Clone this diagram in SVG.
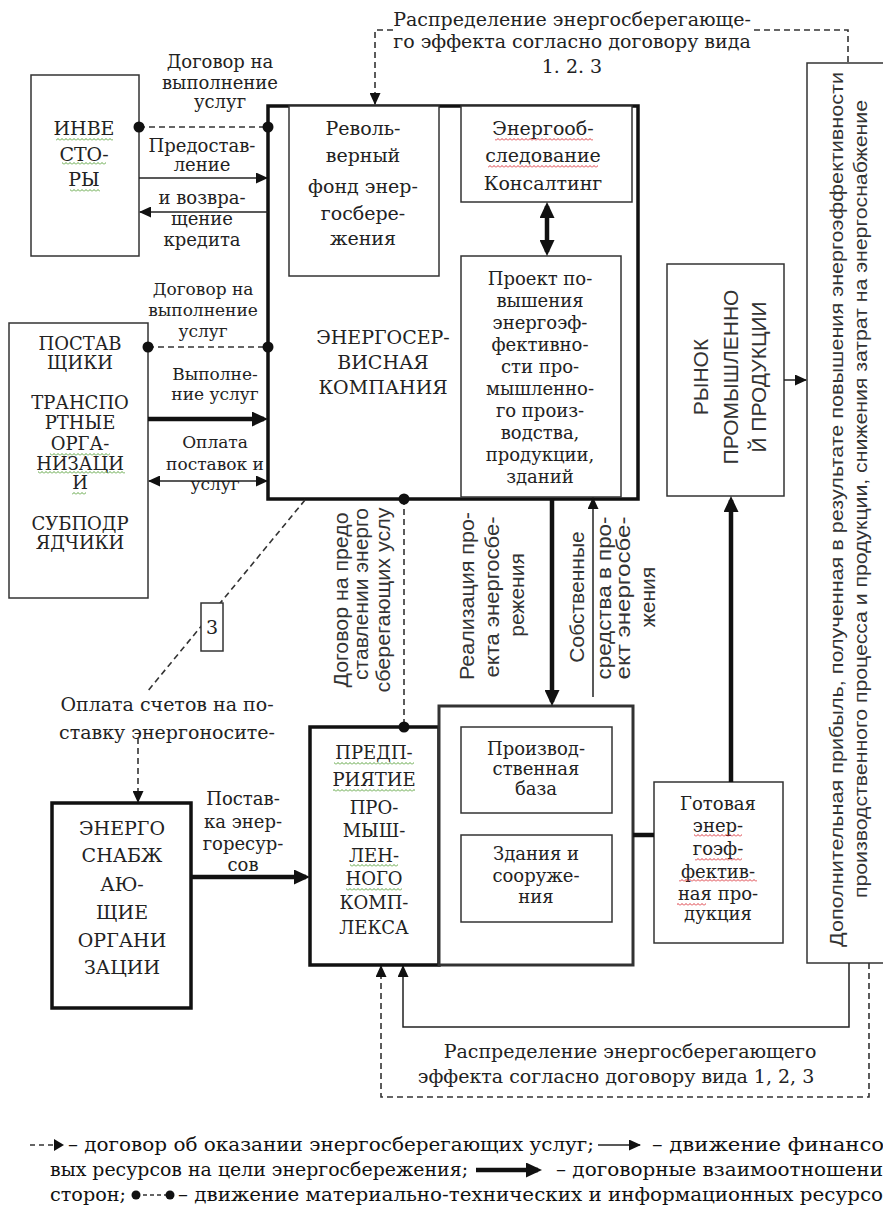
<svg xmlns="http://www.w3.org/2000/svg" width="883" height="1218" viewBox="0 0 883 1218">
<defs>
<style>
.t{font-family:"DejaVu Serif","Liberation Serif",serif;font-size:19px;fill:#222;text-anchor:middle}
.c{font-size:18px}
.n{font-size:17px}
.s{font-family:"Liberation Sans",Arial,sans-serif;fill:#333}
.sm{font-size:21px;text-anchor:middle}
.lg{font-family:"DejaVu Serif","Liberation Serif",serif;font-size:19px;fill:#111}
.box{fill:#fff;stroke:#333;stroke-width:1.5}
.tk{fill:#fff;stroke:#111;stroke-width:3.5}
.ln{fill:none;stroke:#222;stroke-width:1.5}
.bd{fill:none;stroke:#111;stroke-width:4.5}
.ds{fill:none;stroke:#333;stroke-width:1.6;stroke-dasharray:6 4}
.dot{fill:#111}
.wg{fill:url(#wg)}
.wr{fill:url(#wr)}
</style>
<marker id="a" markerUnits="userSpaceOnUse" markerWidth="13" markerHeight="11" refX="11" refY="5.5" orient="auto-start-reverse"><path d="M0,0 L12,5.5 L0,11 z" fill="#111"/></marker>
<marker id="A" markerUnits="userSpaceOnUse" markerWidth="17" markerHeight="15" refX="12" refY="7.5" orient="auto-start-reverse"><path d="M0,0 L16,7.5 L0,15 z" fill="#111"/></marker>
<pattern id="wg" patternUnits="userSpaceOnUse" width="4" height="3"><path d="M0,2.5 L2,0.5 L4,2.5" stroke="#4c9a2a" fill="none" stroke-width="0.9"/></pattern>
<pattern id="wr" patternUnits="userSpaceOnUse" width="4" height="3"><path d="M0,2.5 L2,0.5 L4,2.5" stroke="#d8232a" fill="none" stroke-width="0.9"/></pattern>
</defs>
<rect width="883" height="1218" fill="#fff"/>

<!-- nodes -->
<g id="energoservis">
<rect class="tk" x="268" y="106" width="370" height="393"/>
<g class="t" transform="translate(383 0)">
<text y="344">ЭНЕРГОСЕР-</text><text y="369">ВИСНАЯ</text><text y="394">КОМПАНИЯ</text>
</g>
</g>
<g id="revolver-fund">
<rect class="box" x="289" y="106" width="150" height="170"/>
<g class="t" transform="translate(363 0)">
<text y="135">Револь-</text><text y="162">верный</text><text y="193">фонд энер-</text><text y="220">госбере-</text><text y="245">жения</text>
</g>
</g>
<g id="audit">
<rect class="box" x="461" y="106" width="171" height="96"/>
<g class="t" transform="translate(543 0)">
<text y="135">Энергооб-</text><text y="162">следование</text><text y="190">Консалтинг</text>
</g>
<rect class="wr" x="495" y="138" width="98" height="3"/>
<rect class="wr" x="488" y="165" width="110" height="3"/>
</g>
<g id="project">
<rect class="box" x="461" y="256" width="160" height="241"/>
<g class="t c" transform="translate(540 0)">
<text y="285">Проект по-</text><text y="307">вышения</text><text y="329">энергоэф-</text><text y="351">фективно-</text><text y="373">сти про-</text><text y="395">мышленно-</text><text y="417">го произ-</text><text y="439">водства,</text><text y="461">продукции,</text><text y="483">зданий</text>
</g>
</g>
<g id="investors">
<rect class="box" x="31" y="75" width="108" height="181"/>
<g class="t" transform="translate(84 0)">
<text y="135">ИНВЕ</text><text y="161">СТО-</text><text y="186">РЫ</text>
</g>
<rect class="wg" x="56" y="138" width="57" height="3"/>
<rect class="wg" x="62" y="162" width="44" height="3"/>
<rect class="wg" x="70" y="189" width="30" height="3"/>
</g>
<g id="suppliers">
<rect class="box" x="9" y="323" width="139" height="275"/>
<g class="t c" transform="translate(80 0)">
<text y="350">ПОСТАВ</text><text y="369">ЩИКИ</text><text y="409">ТРАНСПО</text><text y="429">РТНЫЕ</text><text y="450">ОРГА-</text><text y="470">НИЗАЦИ</text><text y="489">И</text><text y="530">СУБПОДР</text><text y="549">ЯДЧИКИ</text>
</g>
<rect class="wg" x="50" y="453" width="60" height="3"/>
<rect class="wg" x="38" y="471" width="87" height="3"/>
<rect class="wg" x="72" y="492" width="14" height="3"/>
</g>
<g id="energy-supply">
<rect class="tk" x="52" y="803" width="139" height="205"/>
<g class="t" transform="translate(122 0)">
<text y="835">ЭНЕРГО</text><text y="862">СНАБЖ</text><text y="891">АЮ-</text><text y="919">ЩИЕ</text><text y="947">ОРГАНИ</text><text y="974">ЗАЦИИ</text>
</g>
</g>
<g id="enterprise">
<rect class="tk" x="310" y="727" width="129" height="238"/>
<g class="t c" transform="translate(374 0)">
<text y="759">ПРЕДП-</text><text y="786">РИЯТИЕ</text><text y="814">ПРО-</text><text y="837">МЫШ-</text><text y="862">ЛЕН-</text><text y="885">НОГО</text><text y="909">КОМП-</text><text y="934">ЛЕКСА</text>
</g>
<rect class="wg" x="334" y="762" width="80" height="3"/>
<rect class="wg" x="333" y="789" width="82" height="3"/>
<rect class="wg" x="350" y="864" width="48" height="3"/>
<rect class="wg" x="346" y="888" width="56" height="3"/>
</g>
<g id="production">
<rect class="tk" x="439" y="706" width="194" height="259" style="stroke:#333;stroke-width:3"/>
<rect class="box" x="461" y="727" width="151" height="86"/>
<rect class="box" x="461" y="835" width="151" height="87"/>
<g class="t c" transform="translate(536 0)">
<text y="755">Производ-</text><text y="775">ственная</text><text y="795">база</text>
<text y="860">Здания и</text><text y="882">сооруже-</text><text y="903">ния</text>
</g>
</g>
<g id="ready-product">
<rect class="box" x="654" y="782" width="129" height="161"/>
<g class="t c" transform="translate(718 0)">
<text y="810">Готовая</text><text y="832">энер-</text><text y="855">гоэф-</text><text y="878">фектив-</text><text y="900">ная про-</text><text y="920">дукция</text>
</g>
<rect class="wr" x="694" y="834" width="48" height="3"/>
<rect class="wr" x="695" y="858" width="47" height="3"/>
<rect class="wr" x="679" y="879" width="78" height="3"/>
<rect class="wr" x="677" y="903" width="29" height="3"/>
</g>
<g id="market">
<rect class="box" x="667" y="264" width="117" height="232"/>
<g class="s sm">
<text transform="translate(708 377) rotate(-90)">РЫНОК</text>
<text transform="translate(738 377) rotate(-90)">ПРОМЫШЛЕННО</text>
<text transform="translate(766 377) rotate(-90)">Й ПРОДУКЦИИ</text>
</g>
</g>
<g id="profit">
<rect class="box" x="807" y="63" width="100" height="900"/>
<g class="s" font-size="18">
<text transform="translate(843 947) rotate(-90)" textLength="875" lengthAdjust="spacingAndGlyphs">Дополнительная прибыль, полученная в результате повышения энергоэффективности</text>
<text transform="translate(867 898) rotate(-90)" textLength="798" lengthAdjust="spacingAndGlyphs">производственного процесса и продукции, снижения затрат на энергоснабжение</text>
</g>
</g>

<!-- connectors -->
<g id="connectors">
<path class="ds" d="M848,62 V30 H752 M393,30 H375 V104" marker-end="url(#a)"/>
<line class="ds" x1="139" y1="127" x2="268" y2="127"/>
<circle class="dot" cx="139" cy="127" r="5.5"/><circle class="dot" cx="268" cy="127" r="5.5"/>
<line class="ln" x1="139" y1="178" x2="267" y2="178" marker-end="url(#a)"/>
<line class="ln" x1="268" y1="212" x2="140" y2="212" marker-end="url(#a)"/>
<line class="ds" x1="148" y1="347" x2="268" y2="347"/>
<circle class="dot" cx="148" cy="347" r="5.5"/><circle class="dot" cx="268" cy="347" r="5.5"/>
<line class="bd" x1="148" y1="419" x2="264" y2="419" marker-end="url(#A)"/>
<line class="ln" x1="149" y1="481" x2="267" y2="481" marker-start="url(#a)" marker-end="url(#a)"/>
<line class="bd" x1="547" y1="206" x2="547" y2="252" marker-start="url(#A)" marker-end="url(#A)"/>
<line class="bd" x1="552" y1="499" x2="552" y2="702" marker-end="url(#A)"/>
<line class="ln" x1="593" y1="697" x2="593" y2="498" marker-end="url(#a)"/>
<line class="bd" x1="731" y1="782" x2="731" y2="500" marker-end="url(#A)"/>
<line class="ln" x1="784" y1="380" x2="806" y2="380" marker-end="url(#a)"/>
<line class="bd" x1="191" y1="877" x2="306" y2="877" marker-end="url(#A)"/>
<line class="bd" x1="633" y1="835" x2="654" y2="835"/>
<line class="ds" x1="404" y1="499" x2="404" y2="727"/>
<circle class="dot" cx="404" cy="499" r="5.5"/><circle class="dot" cx="404" cy="727" r="5.5"/>
<line class="ds" x1="305" y1="500" x2="147" y2="692"/>
<line class="ds" x1="138" y1="738" x2="138" y2="802" marker-end="url(#a)"/>
<path class="ln" d="M849,963 V1027 H403 V966" marker-end="url(#a)"/>
<path class="ds" d="M869,963 V1097 H381 V966" marker-end="url(#a)"/>
</g>

<g id="label-3">
<rect class="box" x="201" y="603" width="22" height="48"/>
<text class="t" x="212" y="634">3</text>
</g>

<!-- connector labels -->
<g id="labels">
<g class="t" transform="translate(572 0)">
<text y="26">Распределение энергосберегающе-</text>
<text y="48">го эффекта согласно договору вида</text>
<text y="73">1. 2. 3</text>
</g>
<g class="t c" transform="translate(220 0)">
<text y="68">Договор на</text><text y="89">выполнение</text><text y="108">услуг</text>
</g>
<g class="t c" transform="translate(202 0)">
<text y="152">Предостав-</text><text y="171">ление</text>
<text y="204">и возвра-</text><text y="225">щение</text><text y="246">кредита</text>
</g>
<g class="t n" transform="translate(203 0)">
<text y="295">Договор на</text><text y="316">выполнение</text><text y="337">услуг</text>
</g>
<g class="t n" transform="translate(215 0)">
<text y="380">Выполне-</text><text y="400">ние услуг</text>
<text y="448">Оплата</text><text y="470">поставок и</text><text y="490">услуг</text>
</g>
<g class="t" transform="translate(167 0)">
<text y="711">Оплата счетов на по-</text><text y="739">ставку энергоносите-</text>
</g>
<g class="t c" transform="translate(243 0)">
<text y="805">Постав-</text><text y="828">ка энер-</text><text y="850">горесур-</text><text y="871">сов</text>
</g>
<g class="t">
<text x="630" y="1058">Распределение энергосберегающего</text>
<text x="616" y="1083">эффекта согласно договору вида 1, 2, 3</text>
</g>
<g class="s sm">
<text transform="translate(348 600) rotate(-90)" textLength="175" lengthAdjust="spacingAndGlyphs" font-size="20">Договор на предо</text>
<text transform="translate(368 594) rotate(-90)" textLength="172" lengthAdjust="spacingAndGlyphs" font-size="20">ставлении  энерго</text>
<text transform="translate(390 600) rotate(-90)" textLength="185" lengthAdjust="spacingAndGlyphs" font-size="20">сберегающих услу</text>
<text transform="translate(474 596) rotate(-90)" textLength="168" lengthAdjust="spacingAndGlyphs">Реализация про-</text>
<text transform="translate(499 597) rotate(-90)" textLength="161" lengthAdjust="spacingAndGlyphs">екта энергосбе-</text>
<text transform="translate(524 595) rotate(-90)">режения</text>
<text transform="translate(584 597) rotate(-90)">Собственные</text>
<text transform="translate(611 598) rotate(-90)" textLength="163" lengthAdjust="spacingAndGlyphs">средства в про-</text>
<text transform="translate(630 598) rotate(-90)" textLength="163" lengthAdjust="spacingAndGlyphs">ект энергосбе-</text>
<text transform="translate(655 597) rotate(-90)">жения</text>
</g>
</g>

<!-- legend -->
<g id="legend">
<line class="ds" x1="30" y1="1145" x2="54" y2="1145" style="stroke-dasharray:5 4"/>
<path d="M54,1139 L64,1145 L54,1151 z" fill="#111"/>
<text class="lg" x="68" y="1151" textLength="526" lengthAdjust="spacingAndGlyphs">– договор об оказании энергосберегающих услуг;</text>
<line class="ln" x1="598" y1="1145" x2="640" y2="1145" marker-end="url(#a)"/>
<text class="lg" x="652" y="1151" textLength="232" lengthAdjust="spacingAndGlyphs">– движение финансо</text>
<text class="lg" x="50" y="1176" textLength="418" lengthAdjust="spacingAndGlyphs">вых ресурсов на цели энергосбережения;</text>
<line class="bd" x1="476" y1="1170" x2="538" y2="1170" marker-end="url(#A)"/>
<text class="lg" x="556" y="1176" textLength="327" lengthAdjust="spacingAndGlyphs">– договорные взаимоотношени</text>
<text class="lg" x="50" y="1201" textLength="76" lengthAdjust="spacingAndGlyphs">сторон;</text>
<line class="ds" x1="136" y1="1195" x2="170" y2="1195" style="stroke-dasharray:4 3"/>
<circle class="dot" cx="136" cy="1195" r="4.5"/><circle class="dot" cx="170" cy="1195" r="4.5"/>
<text class="lg" x="178" y="1201" textLength="705" lengthAdjust="spacingAndGlyphs">– движение материально-технических и информационных ресурсо</text>
</g>
</svg>
